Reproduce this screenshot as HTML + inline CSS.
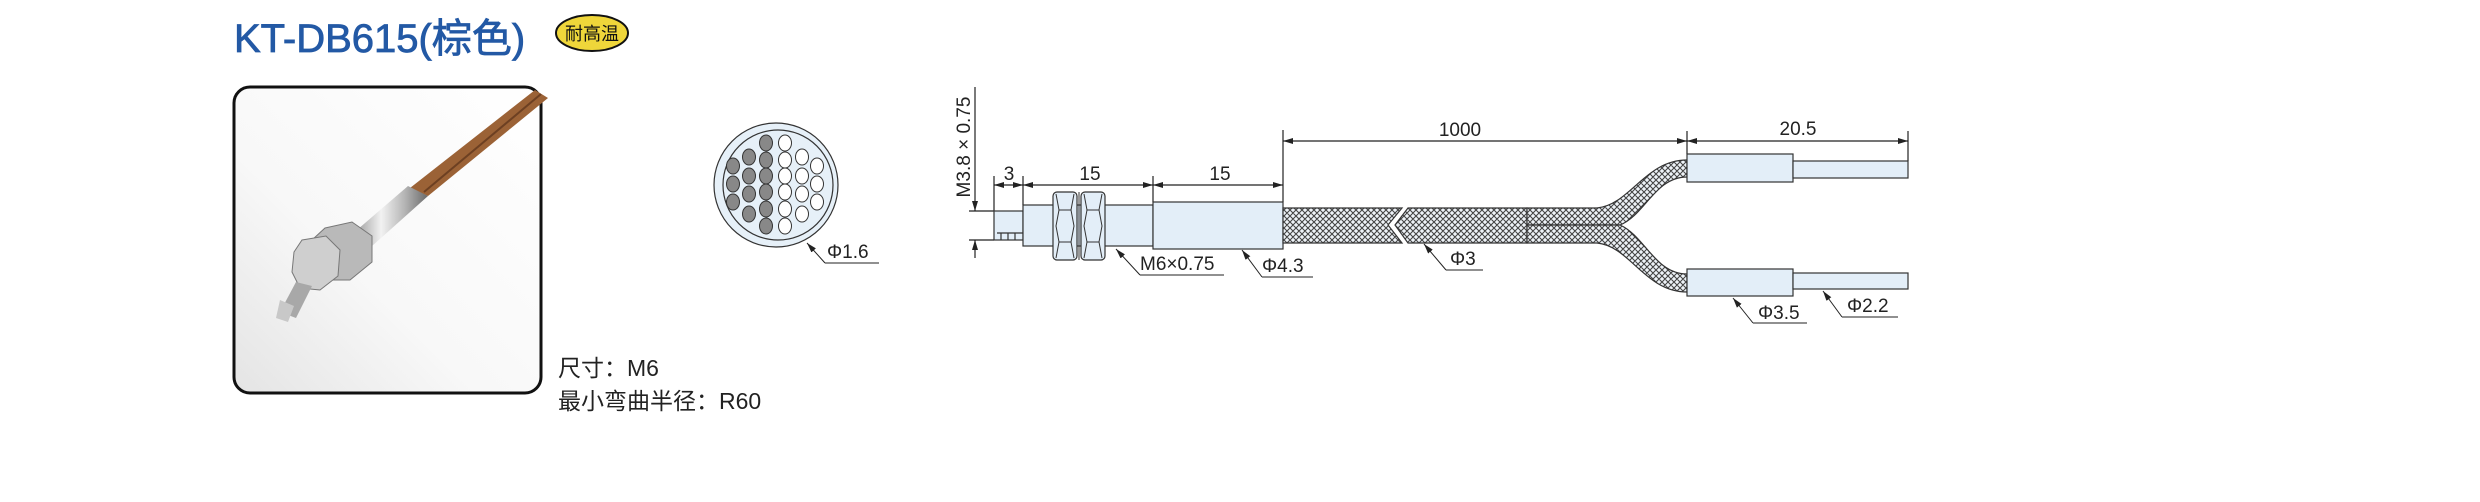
<!DOCTYPE html>
<html><head><meta charset="utf-8"><style>
html,body{margin:0;padding:0;background:#fff;}
svg{display:block;}
text{font-family:"Liberation Sans","Noto Sans CJK SC",sans-serif;}
</style></head><body>
<svg width="2480" height="502" viewBox="0 0 2480 502" xmlns="http://www.w3.org/2000/svg">
<defs>
<pattern id="br" width="6" height="6" patternUnits="userSpaceOnUse">
<rect width="6" height="6" fill="#eef3f8"/>
<path d="M-1,-1 L7,7 M-1,5 L1,7 M5,-1 L7,1 M7,-1 L-1,7 M5,7 L7,5 M-1,1 L1,-1" stroke="#444" stroke-width="1.1"/>
</pattern>
<marker id="ar" viewBox="0 0 10 6" refX="10" refY="3" markerWidth="10" markerHeight="6" orient="auto-start-reverse" markerUnits="userSpaceOnUse">
<path d="M0,0 L10,3 L0,6 Z" fill="#222"/>
</marker>
<linearGradient id="bg" x1="0" y1="1" x2="1" y2="0">
<stop offset="0" stop-color="#e4e4e4"/><stop offset="0.4" stop-color="#f8f8f8"/><stop offset="1" stop-color="#ffffff"/>
</linearGradient>
<linearGradient id="met" x1="0" y1="0" x2="1" y2="0">
<stop offset="0" stop-color="#8a8a8a"/><stop offset="0.4" stop-color="#f2f2f2"/><stop offset="0.7" stop-color="#b5b5b5"/><stop offset="1" stop-color="#6a6a6a"/>
</linearGradient>
</defs>

<text x="234" y="52" font-size="40" fill="#2359a5" stroke="#2359a5" stroke-width="0.8">KT-DB615(棕色)</text>
<ellipse cx="592" cy="33" rx="36" ry="18" fill="#efd63a" stroke="#111" stroke-width="2"/>
<text x="592" y="40" font-size="18" text-anchor="middle" fill="#111">耐高温</text>

<rect x="234" y="87" width="307" height="306" rx="16" fill="url(#bg)" stroke="#111" stroke-width="3"/>
<g>
<path d="M535,90 L548,98 L428,196 L410,188 Z" fill="#9b6236"/>
<path d="M541,94 L424,192" stroke="#6d4022" stroke-width="2"/>
<path d="M408,186 L428,196 L372,246 L350,236 Z" fill="url(#met)"/>
<path d="M325,228 L352,222 L372,236 L372,262 L350,280 L322,280 L310,262 L312,240 Z" fill="#b9b9b9" stroke="#777"/>
<path d="M302,240 L326,236 L340,250 L338,276 L320,290 L300,288 L292,272 L294,252 Z" fill="#cfcfcf" stroke="#777"/>
<path d="M296,282 L312,286 L296,318 L280,312 Z" fill="#a8a8a8"/>
<path d="M280,300 L294,306 L288,322 L276,318 Z" fill="#c8c8c8"/>
</g>

<text x="558" y="376" font-size="23" fill="#222">尺寸：M6</text>
<text x="558" y="409" font-size="23" fill="#222">最小弯曲半径：R60</text>

<circle cx="776" cy="185" r="62" fill="#e6f0f8" stroke="#333" stroke-width="1.2"/>
<circle cx="778" cy="185" r="55" fill="#e6f0f8" stroke="#333" stroke-width="1.2"/>
<g stroke="#333" stroke-width="1">
<g fill="#888">
<ellipse cx="733" cy="166" rx="6.5" ry="8"/><ellipse cx="733" cy="184" rx="6.5" ry="8"/><ellipse cx="733" cy="202" rx="6.5" ry="8"/>
<ellipse cx="749" cy="157" rx="6.5" ry="8"/><ellipse cx="749" cy="176" rx="6.5" ry="8"/><ellipse cx="749" cy="194" rx="6.5" ry="8"/><ellipse cx="749" cy="214" rx="6.5" ry="8"/>
<ellipse cx="766" cy="143" rx="6.5" ry="8"/><ellipse cx="766" cy="160" rx="6.5" ry="8"/><ellipse cx="766" cy="176" rx="6.5" ry="8"/><ellipse cx="766" cy="192" rx="6.5" ry="8"/><ellipse cx="766" cy="209" rx="6.5" ry="8"/><ellipse cx="766" cy="226" rx="6.5" ry="8"/>
</g>
<g fill="#fff">
<ellipse cx="785" cy="143" rx="6.5" ry="8"/><ellipse cx="785" cy="160" rx="6.5" ry="8"/><ellipse cx="785" cy="176" rx="6.5" ry="8"/><ellipse cx="785" cy="192" rx="6.5" ry="8"/><ellipse cx="785" cy="209" rx="6.5" ry="8"/><ellipse cx="785" cy="226" rx="6.5" ry="8"/>
<ellipse cx="802" cy="157" rx="6.5" ry="8"/><ellipse cx="802" cy="176" rx="6.5" ry="8"/><ellipse cx="802" cy="194" rx="6.5" ry="8"/><ellipse cx="802" cy="214" rx="6.5" ry="8"/>
<ellipse cx="817" cy="166" rx="6.5" ry="8"/><ellipse cx="817" cy="184" rx="6.5" ry="8"/><ellipse cx="817" cy="202" rx="6.5" ry="8"/>
</g>
</g>
<path d="M825,263 L807,243" stroke="#222" stroke-width="1" marker-end="url(#ar)"/>
<path d="M825,263 L879,263" stroke="#222" stroke-width="1"/>
<text x="827" y="258" font-size="19" fill="#222">Φ1.6</text>

<g stroke="#222" stroke-width="1.2">
<line x1="969" y1="211" x2="994" y2="211"/>
<line x1="969" y1="240" x2="994" y2="240"/>
<line x1="975" y1="87" x2="975" y2="211" marker-end="url(#ar)"/>
<line x1="975" y1="258" x2="975" y2="240" marker-end="url(#ar)"/>
<line x1="994" y1="176" x2="994" y2="211"/>
<line x1="1023" y1="176" x2="1023" y2="205"/>
<line x1="1153" y1="176" x2="1153" y2="202"/>
<line x1="1283" y1="130" x2="1283" y2="202"/>
<line x1="1687" y1="131" x2="1687" y2="154"/>
<line x1="1908" y1="131" x2="1908" y2="161"/>
<line x1="994" y1="185" x2="1023" y2="185" marker-start="url(#ar)" marker-end="url(#ar)"/>
<line x1="1023" y1="185" x2="1153" y2="185" marker-start="url(#ar)" marker-end="url(#ar)"/>
<line x1="1153" y1="185" x2="1283" y2="185" marker-start="url(#ar)" marker-end="url(#ar)"/>
<line x1="1283" y1="141" x2="1687" y2="141" marker-start="url(#ar)" marker-end="url(#ar)"/>
<line x1="1687" y1="141" x2="1908" y2="141" marker-start="url(#ar)" marker-end="url(#ar)"/>
</g>
<g font-size="19" fill="#222" text-anchor="middle">
<text x="1009" y="180">3</text>
<text x="1090" y="180">15</text>
<text x="1220" y="180">15</text>
<text x="1460" y="136">1000</text>
<text x="1798" y="135">20.5</text>
<text transform="translate(970,147) rotate(-90)" font-size="19">M3.8 × 0.75</text>
</g>

<g stroke="#333" stroke-width="1.2" fill="#e3eef8">
<rect x="994" y="211" width="29" height="29"/>
<path d="M997,233 L1023,233 M1001,233 V240 M1008,233 V240 M1015,233 V240" fill="none"/>
<rect x="1023" y="205" width="130" height="41"/>
<rect x="1153" y="202" width="130" height="47"/>
<rect x="1053" y="192" width="24" height="68" rx="4"/>
<rect x="1081" y="192" width="24" height="68" rx="4"/>
<path d="M1056,194 L1059,210 L1056,226 L1059,242 L1056,258 M1074,194 L1071,210 L1074,226 L1071,242 L1074,258 M1059,210 H1071 M1059,242 H1071 M1084,194 L1087,210 L1084,226 L1087,242 L1084,258 M1102,194 L1099,210 L1102,226 L1099,242 L1102,258 M1087,210 H1099 M1087,242 H1099" fill="none" stroke-width="1"/>
<line x1="1079" y1="192" x2="1079" y2="260" stroke-width="1"/>
<path d="M1283,208 L1402,208 L1388,225 L1402,243 L1283,243 Z" fill="url(#br)"/>
<path d="M1408,208 L1527,208 L1527,243 L1408,243 L1395,225 Z" fill="url(#br)"/>
<path d="M1527,208 L1597,208 C1630,205 1645,160 1687,160 L1687,177 C1655,177 1645,215 1620,225 L1527,225 Z" fill="url(#br)"/>
<path d="M1527,243 L1597,243 C1630,246 1645,292 1687,292 L1687,274 C1655,274 1645,236 1620,225 L1527,225 Z" fill="url(#br)"/>
<rect x="1687" y="154" width="106" height="28"/>
<rect x="1793" y="161" width="115" height="17"/>
<rect x="1687" y="269" width="106" height="27"/>
<rect x="1793" y="273" width="115" height="16"/>
</g>

<g stroke="#222" stroke-width="1" fill="none">
<path d="M1140,275 L1116,249" marker-end="url(#ar)"/><path d="M1140,275 H1224"/>
<path d="M1262,277 L1242,250" marker-end="url(#ar)"/><path d="M1262,277 H1313"/>
<path d="M1446,270 L1424,244" marker-end="url(#ar)"/><path d="M1446,270 H1483"/>
<path d="M1753,323 L1733,298" marker-end="url(#ar)"/><path d="M1753,323 H1807"/>
<path d="M1842,317 L1823,291" marker-end="url(#ar)"/><path d="M1842,317 H1898"/>
</g>
<g font-size="19" fill="#222">
<text x="1140" y="270">M6×0.75</text>
<text x="1262" y="272">Φ4.3</text>
<text x="1450" y="265">Φ3</text>
<text x="1758" y="319">Φ3.5</text>
<text x="1847" y="312">Φ2.2</text>
</g>
</svg>
</body></html>
